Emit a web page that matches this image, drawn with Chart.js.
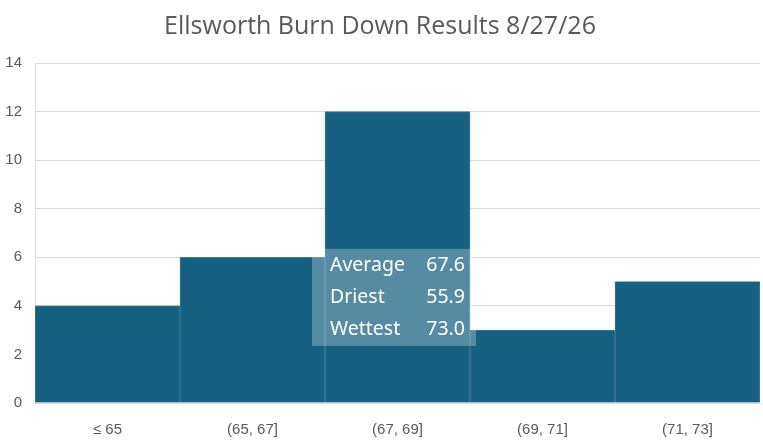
<!DOCTYPE html>
<html>
<head>
<meta charset="utf-8">
<script src="https://cdn.jsdelivr.net/npm/chart.js@4.4.1/dist/chart.umd.min.js"></script>
<style>
  html, body { margin: 0; padding: 0; background: #fff; }
  #wrap { width: 763px; height: 446px; }
</style>
</head>
<body>
<div id="wrap"><canvas id="chart"></canvas></div>
<script>
const bins = ["\u2264 65", "(65, 67]", "(67, 69]", "(69, 71]", "(71, 73]"];
const counts = [4, 6, 12, 3, 5];
const yMax = 14;
const yStep = 2;
const statNames = ["Average", "Driest", "Wettest"];
const statValues = ["67.6", "55.9", "73.0"];

const barColor = "#166082";
const barEdge = "#3f7a98";

// text box over the middle of the chart
const statsBox = {
  id: "statsBox",
  afterDatasetsDraw(chart) {
    const { ctx, scales: { x, y } } = chart;
    const step = x.getPixelForValue(1) - x.getPixelForValue(0);
    const left = x.getPixelForValue(2) - step / 2 - 13;
    const right = x.getPixelForValue(2) + step / 2 + 6;
    const top = y.getPixelForValue(6.35);
    const bottom = y.getPixelForValue(2.35);
    ctx.save();
    ctx.fillStyle = "rgba(255,255,255,0.27)";
    ctx.fillRect(left, top, right - left, bottom - top);
    ctx.fillStyle = "#ffffff";
    ctx.font = "19.5px 'Noto Sans'";
    ctx.textBaseline = "middle";
    const rowH = (bottom - top) / statNames.length;
    statNames.forEach((name, i) => {
      const cy = top + rowH * (i + 0.5);
      ctx.textAlign = "left";
      ctx.fillText(name, left + 18, cy);
      ctx.textAlign = "right";
      ctx.fillText(statValues[i], right - 11, cy);
    });
    ctx.restore();
  }
};

new Chart(document.getElementById("chart"), {
  type: "bar",
  data: {
    labels: bins,
    datasets: [{
      data: counts,
      backgroundColor: barColor,
      borderColor: barEdge,
      borderWidth: 1,
      barPercentage: 1,
      categoryPercentage: 1
    }]
  },
  options: {
    responsive: true,
    maintainAspectRatio: false,
    animation: false,
    layout: { padding: { left: 0, right: 3, top: 0, bottom: 0 } },
    plugins: {
      legend: { display: false },
      tooltip: { enabled: false },
      title: {
        display: true,
        text: "Ellsworth Burn Down Results 8/27/26",
        color: "#595959",
        font: { family: "'Open Sans'", size: 25, weight: "normal" },
        padding: { top: 12, bottom: 21 }
      }
    },
    scales: {
      x: {
        grid: { display: false },
        border: { display: true, color: "#d9d9d9" },
        ticks: {
          color: "#595959",
          font: { family: "'Liberation Sans'", size: 15 },
          padding: 10
        },
        afterFit(scale) { scale.height = 43; }
      },
      y: {
        min: 0,
        max: yMax,
        ticks: {
          stepSize: yStep,
          color: "#595959",
          font: { family: "'Liberation Sans'", size: 15 },
          padding: 13
        },
        grid: { color: "#d9d9d9", drawTicks: false },
        border: { display: true, color: "#d9d9d9" },
        afterFit(scale) { scale.width = 35; }
      }
    }
  },
  plugins: [statsBox]
});
</script>
</body>
</html>
